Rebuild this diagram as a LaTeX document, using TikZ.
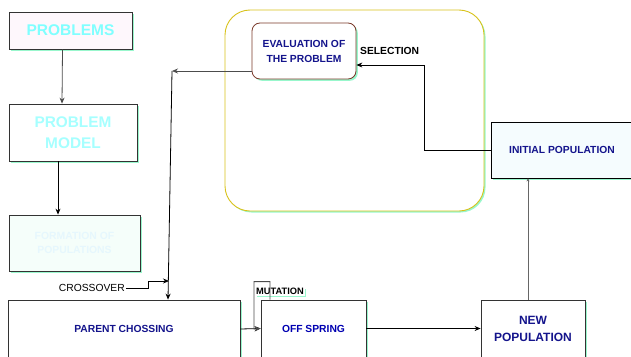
\documentclass[tikz,border=0pt]{standalone}
\usepackage{fontspec}
\setmainfont{Liberation Sans}
\usetikzlibrary{arrows.meta,shadows}
\definecolor{navy}{HTML}{14148C}
\definecolor{aqua}{HTML}{80FFFF}
\definecolor{mint}{HTML}{7FF5C0}
\definecolor{gold}{HTML}{D8C21A}
\definecolor{brownish}{HTML}{7A3A2A}
\begin{document}
\begin{tikzpicture}[x=1pt, y=-1pt,
    box/.style={rectangle, draw=black!80, line width=0.8pt, fill=white,
        align=center, inner sep=2pt, font=\bfseries\fontsize{10.3}{15}\selectfont,
        text=navy, drop shadow={shadow xshift=1.8pt, shadow yshift=-1.8pt,
        fill=mint, opacity=0.8}},
    arr/.style={line width=0.8pt, -{Stealth[length=6pt,width=5pt]}},
    link/.style={line width=0.8pt},
    tag/.style={inner sep=1pt, font=\bfseries\fontsize{10.3}{12}\selectfont}
]
    \useasboundingbox (0,0) rectangle (631,356);
    \draw[line width=0.9pt, draw=gold, rounded corners=25pt,
        drop shadow={shadow xshift=1.5pt, shadow yshift=-1.5pt, fill=mint, opacity=0.8},
        fill=white] (225,10) rectangle (484,211);
    \node[box, minimum width=123pt, minimum height=37pt, fill=magenta!3,
        text=aqua, font=\bfseries\fontsize{15.5}{18}\selectfont] (problems) at (70.5,30.5) {PROBLEMS};
    \node[box, minimum width=128pt, minimum height=57pt,
        text=aqua!70, font=\bfseries\fontsize{15.4}{21}\selectfont] (model) at (73,132.5) {PROBLEM\\MODEL};
    \node[box, minimum width=131pt, minimum height=56pt, fill=mint!8,
        text=cyan!10, font=\bfseries\fontsize{10.4}{14}\selectfont] (formation) at (74.5,243) {FORMATION OF\\POPULATIONS};
    \node[box, draw=brownish, rounded corners=8pt, minimum width=104pt,
        minimum height=56pt, drop shadow={opacity=0}] (eval) at (304,51) {EVALUATION OF\\THE PROBLEM};
    \node[box, draw=black, minimum width=142pt, minimum height=56pt,
        fill=cyan!4] (initpop) at (562,150) {INITIAL POPULATION};
    \node[box, minimum width=232pt, minimum height=58pt,
        drop shadow={opacity=0}] (parent) at (124,329) {PARENT CHOSSING};
    \node[box, minimum width=105pt, minimum height=57pt, text=blue!70!black] (offspring) at (313.5,328.5) {OFF SPRING};
    \node[box, minimum width=104pt, minimum height=57pt,
        font=\bfseries\fontsize{12}{17}\selectfont] (newpop) at (533,328.5) {NEW\\POPULATION};
    \node[tag, anchor=west] (selection) at (359,51) {SELECTION};
    \node[tag, anchor=east, font=\fontsize{10.3}{12}\selectfont] (crossover) at (126,288) {CROSSOVER};
    \node[tag, fill=white, font=\bfseries\fontsize{9.3}{11}\selectfont,
        drop shadow={shadow xshift=1.5pt, shadow yshift=-1.5pt, fill=mint, opacity=0.8}] (mutation) at (280,291.5) {MUTATION};
    \coordinate (corner) at (172,71);
    \coordinate (hit) at (169,281);
    \draw[arr, black!70] ([xshift=-8pt]problems.south) -- ([xshift=-11pt]model.north);
    \draw[arr] ([xshift=-15pt]model.south) -- ([xshift=-16.5pt]formation.north);
    \draw[arr, black!70] ([yshift=-20pt]eval.west) -- (corner);
    \draw[arr] (corner) -- ([xshift=44pt]parent.north);
    \draw[arr] (crossover.east) -- ++(22,0) |- (hit);
    \draw[arr] (initpop.west) -| (424,65) -- ([yshift=-14pt]eval.east);
    \draw[arr] (parent.east) -- (offspring.west);
    \draw[arr, black!70] ([xshift=-43.5pt]offspring.north) -- ++(0,-18) -| (254,329) -- (offspring.west);
    \draw[arr] (offspring.east) -- (newpop.west);
    \draw[link, black!60, -{Stealth[length=3pt,width=3pt]}] ([xshift=-5pt]newpop.north) -- ([xshift=-34pt]initpop.south);
\end{tikzpicture}
\end{document}
